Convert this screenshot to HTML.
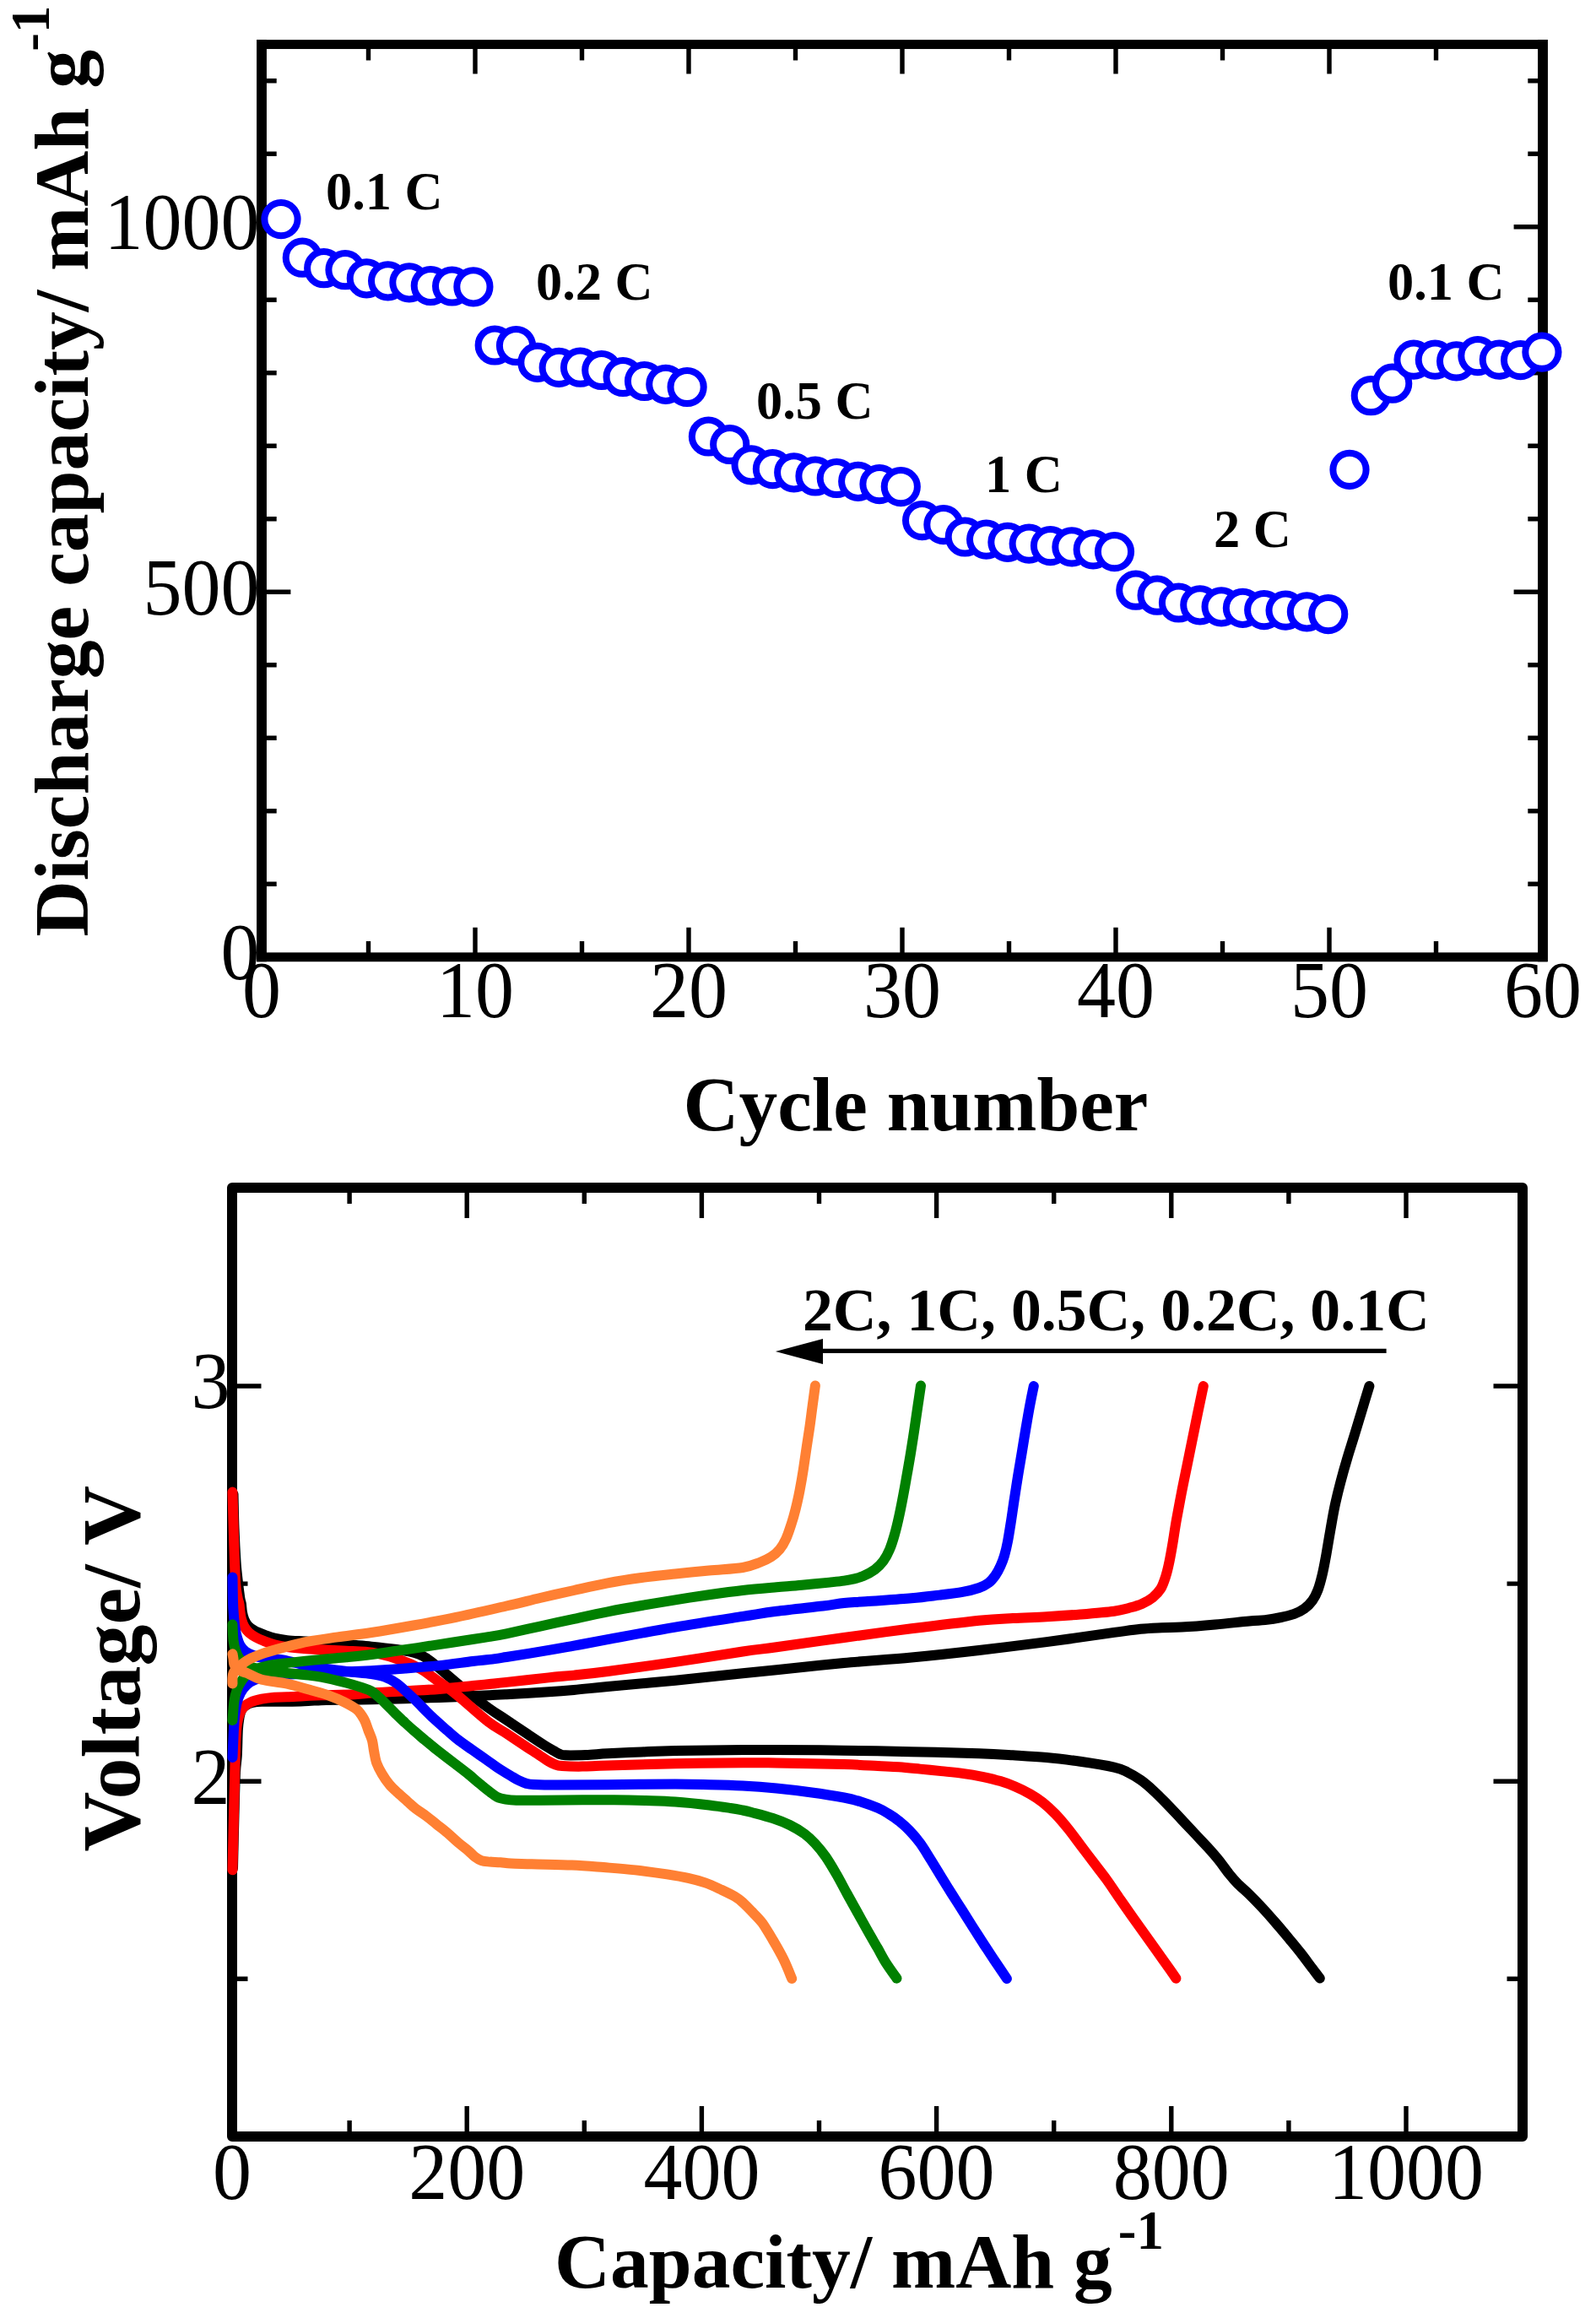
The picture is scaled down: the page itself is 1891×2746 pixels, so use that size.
<!DOCTYPE html>
<html lang="en"><head><meta charset="utf-8"><title>Rate capability</title>
<style>html,body{margin:0;padding:0;background:#fff}svg{display:block}</style></head>
<body><svg width="1891" height="2746" viewBox="0 0 1891 2746">
<rect width="1891" height="2746" fill="#fff"/>
<g id="top">
<path d="M436.5 52.6 v18.8M436.5 1133.8 v-18.8M563.0 52.6 v35.0M563.0 1133.8 v-35.0M689.5 52.6 v18.8M689.5 1133.8 v-18.8M816.0 52.6 v35.0M816.0 1133.8 v-35.0M942.5 52.6 v18.8M942.5 1133.8 v-18.8M1069.0 52.6 v35.0M1069.0 1133.8 v-35.0M1195.5 52.6 v18.8M1195.5 1133.8 v-18.8M1322.0 52.6 v35.0M1322.0 1133.8 v-35.0M1448.5 52.6 v18.8M1448.5 1133.8 v-18.8M1575.0 52.6 v35.0M1575.0 1133.8 v-35.0M1701.5 52.6 v18.8M1701.5 1133.8 v-18.8M310.0 1047.3 h17.7M1828.0 1047.3 h-17.7M310.0 960.8 h17.7M1828.0 960.8 h-17.7M310.0 874.3 h17.7M1828.0 874.3 h-17.7M310.0 787.8 h17.7M1828.0 787.8 h-17.7M310.0 701.3 h34.4M1828.0 701.3 h-34.4M310.0 614.8 h17.7M1828.0 614.8 h-17.7M310.0 528.3 h17.7M1828.0 528.3 h-17.7M310.0 441.8 h17.7M1828.0 441.8 h-17.7M310.0 355.3 h17.7M1828.0 355.3 h-17.7M310.0 268.8 h34.4M1828.0 268.8 h-34.4M310.0 182.3 h17.7M1828.0 182.3 h-17.7M310.0 95.8 h17.7M1828.0 95.8 h-17.7" stroke="#000" stroke-width="5.4" fill="none"/>
<rect x="310.0" y="52.6" width="1518.0" height="1081.2" fill="none" stroke="#000" stroke-width="10.9"/>
<path d="M310.0 47.1V1139.2M1828.0 47.1V1139.2" fill="none" stroke="#000" stroke-width="11.8"/>
<text transform="translate(307.5 1160.1) scale(1.0000 1.0350)" font-family="'Liberation Serif', 'Times New Roman', serif" font-size="92.0"  text-anchor="end" >0</text>
<text transform="translate(307.5 727.6) scale(1.0000 1.0350)" font-family="'Liberation Serif', 'Times New Roman', serif" font-size="92.0"  text-anchor="end" >500</text>
<text transform="translate(307.5 295.1) scale(1.0000 1.0350)" font-family="'Liberation Serif', 'Times New Roman', serif" font-size="92.0"  text-anchor="end" >1000</text>
<text transform="translate(310.0 1205.0) scale(1.0000 1.0350)" font-family="'Liberation Serif', 'Times New Roman', serif" font-size="92.0"  text-anchor="middle" >0</text>
<text transform="translate(563.0 1205.0) scale(1.0000 1.0350)" font-family="'Liberation Serif', 'Times New Roman', serif" font-size="92.0"  text-anchor="middle" >10</text>
<text transform="translate(816.0 1205.0) scale(1.0000 1.0350)" font-family="'Liberation Serif', 'Times New Roman', serif" font-size="92.0"  text-anchor="middle" >20</text>
<text transform="translate(1069.0 1205.0) scale(1.0000 1.0350)" font-family="'Liberation Serif', 'Times New Roman', serif" font-size="92.0"  text-anchor="middle" >30</text>
<text transform="translate(1322.0 1205.0) scale(1.0000 1.0350)" font-family="'Liberation Serif', 'Times New Roman', serif" font-size="92.0"  text-anchor="middle" >40</text>
<text transform="translate(1575.0 1205.0) scale(1.0000 1.0350)" font-family="'Liberation Serif', 'Times New Roman', serif" font-size="92.0"  text-anchor="middle" >50</text>
<text transform="translate(1828.0 1205.0) scale(1.0000 1.0350)" font-family="'Liberation Serif', 'Times New Roman', serif" font-size="92.0"  text-anchor="middle" >60</text>
<text transform="translate(104.0 1109.5) rotate(-90)" font-family="'Liberation Serif', 'Times New Roman', serif" font-size="91.6" font-weight="bold" text-anchor="start" >Discharge capacity/ mAh g<tspan font-size="65" dy="-46" dx="-2">-1</tspan></text>
<text transform="translate(1085.0 1338.6)" font-family="'Liberation Serif', 'Times New Roman', serif" font-size="91.4" font-weight="bold" text-anchor="middle" >Cycle number</text>
<text transform="translate(386.0 248.0)" font-family="'Liberation Serif', 'Times New Roman', serif" font-size="62.4" font-weight="bold" text-anchor="start" >0.1 C</text>
<text transform="translate(635.0 355.3)" font-family="'Liberation Serif', 'Times New Roman', serif" font-size="62.4" font-weight="bold" text-anchor="start" >0.2 C</text>
<text transform="translate(896.0 495.9)" font-family="'Liberation Serif', 'Times New Roman', serif" font-size="62.4" font-weight="bold" text-anchor="start" >0.5 C</text>
<text transform="translate(1167.0 582.8)" font-family="'Liberation Serif', 'Times New Roman', serif" font-size="62.4" font-weight="bold" text-anchor="start" >1 C</text>
<text transform="translate(1438.0 647.9)" font-family="'Liberation Serif', 'Times New Roman', serif" font-size="62.4" font-weight="bold" text-anchor="start" >2 C</text>
<text transform="translate(1644.0 355.2)" font-family="'Liberation Serif', 'Times New Roman', serif" font-size="62.4" font-weight="bold" text-anchor="start" >0.1 C</text>
<circle cx="333.0" cy="259.6" r="19.6" fill="#fff" stroke="#0000ff" stroke-width="8"/>
<circle cx="358.3" cy="305.2" r="19.6" fill="#fff" stroke="#0000ff" stroke-width="8"/>
<circle cx="383.7" cy="317.7" r="19.6" fill="#fff" stroke="#0000ff" stroke-width="8"/>
<circle cx="409.0" cy="319.7" r="19.6" fill="#fff" stroke="#0000ff" stroke-width="8"/>
<circle cx="434.3" cy="329.8" r="19.6" fill="#fff" stroke="#0000ff" stroke-width="8"/>
<circle cx="459.6" cy="332.8" r="19.6" fill="#fff" stroke="#0000ff" stroke-width="8"/>
<circle cx="484.9" cy="334.8" r="19.6" fill="#fff" stroke="#0000ff" stroke-width="8"/>
<circle cx="510.3" cy="338.5" r="19.6" fill="#fff" stroke="#0000ff" stroke-width="8"/>
<circle cx="535.6" cy="339.0" r="19.6" fill="#fff" stroke="#0000ff" stroke-width="8"/>
<circle cx="560.9" cy="339.8" r="19.6" fill="#fff" stroke="#0000ff" stroke-width="8"/>
<circle cx="586.2" cy="409.0" r="19.6" fill="#fff" stroke="#0000ff" stroke-width="8"/>
<circle cx="611.5" cy="409.5" r="19.6" fill="#fff" stroke="#0000ff" stroke-width="8"/>
<circle cx="636.9" cy="429.4" r="19.6" fill="#fff" stroke="#0000ff" stroke-width="8"/>
<circle cx="662.2" cy="435.4" r="19.6" fill="#fff" stroke="#0000ff" stroke-width="8"/>
<circle cx="687.5" cy="435.2" r="19.6" fill="#fff" stroke="#0000ff" stroke-width="8"/>
<circle cx="712.8" cy="438.5" r="19.6" fill="#fff" stroke="#0000ff" stroke-width="8"/>
<circle cx="738.1" cy="446.5" r="19.6" fill="#fff" stroke="#0000ff" stroke-width="8"/>
<circle cx="763.5" cy="451.5" r="19.6" fill="#fff" stroke="#0000ff" stroke-width="8"/>
<circle cx="788.8" cy="455.3" r="19.6" fill="#fff" stroke="#0000ff" stroke-width="8"/>
<circle cx="814.1" cy="458.5" r="19.6" fill="#fff" stroke="#0000ff" stroke-width="8"/>
<circle cx="839.4" cy="517.0" r="19.6" fill="#fff" stroke="#0000ff" stroke-width="8"/>
<circle cx="864.7" cy="526.5" r="19.6" fill="#fff" stroke="#0000ff" stroke-width="8"/>
<circle cx="890.1" cy="550.8" r="19.6" fill="#fff" stroke="#0000ff" stroke-width="8"/>
<circle cx="915.4" cy="555.6" r="19.6" fill="#fff" stroke="#0000ff" stroke-width="8"/>
<circle cx="940.7" cy="559.8" r="19.6" fill="#fff" stroke="#0000ff" stroke-width="8"/>
<circle cx="966.0" cy="564.0" r="19.6" fill="#fff" stroke="#0000ff" stroke-width="8"/>
<circle cx="991.3" cy="566.5" r="19.6" fill="#fff" stroke="#0000ff" stroke-width="8"/>
<circle cx="1016.7" cy="570.3" r="19.6" fill="#fff" stroke="#0000ff" stroke-width="8"/>
<circle cx="1042.0" cy="573.6" r="19.6" fill="#fff" stroke="#0000ff" stroke-width="8"/>
<circle cx="1067.3" cy="576.6" r="19.6" fill="#fff" stroke="#0000ff" stroke-width="8"/>
<circle cx="1092.6" cy="616.6" r="19.6" fill="#fff" stroke="#0000ff" stroke-width="8"/>
<circle cx="1117.9" cy="621.6" r="19.6" fill="#fff" stroke="#0000ff" stroke-width="8"/>
<circle cx="1143.3" cy="636.0" r="19.6" fill="#fff" stroke="#0000ff" stroke-width="8"/>
<circle cx="1168.6" cy="639.1" r="19.6" fill="#fff" stroke="#0000ff" stroke-width="8"/>
<circle cx="1193.9" cy="642.3" r="19.6" fill="#fff" stroke="#0000ff" stroke-width="8"/>
<circle cx="1219.2" cy="644.1" r="19.6" fill="#fff" stroke="#0000ff" stroke-width="8"/>
<circle cx="1244.5" cy="646.6" r="19.6" fill="#fff" stroke="#0000ff" stroke-width="8"/>
<circle cx="1269.9" cy="647.9" r="19.6" fill="#fff" stroke="#0000ff" stroke-width="8"/>
<circle cx="1295.2" cy="650.9" r="19.6" fill="#fff" stroke="#0000ff" stroke-width="8"/>
<circle cx="1320.5" cy="653.6" r="19.6" fill="#fff" stroke="#0000ff" stroke-width="8"/>
<circle cx="1345.8" cy="699.2" r="19.6" fill="#fff" stroke="#0000ff" stroke-width="8"/>
<circle cx="1371.1" cy="705.2" r="19.6" fill="#fff" stroke="#0000ff" stroke-width="8"/>
<circle cx="1396.5" cy="714.0" r="19.6" fill="#fff" stroke="#0000ff" stroke-width="8"/>
<circle cx="1421.8" cy="716.8" r="19.6" fill="#fff" stroke="#0000ff" stroke-width="8"/>
<circle cx="1447.1" cy="718.8" r="19.6" fill="#fff" stroke="#0000ff" stroke-width="8"/>
<circle cx="1472.4" cy="720.3" r="19.6" fill="#fff" stroke="#0000ff" stroke-width="8"/>
<circle cx="1497.7" cy="722.6" r="19.6" fill="#fff" stroke="#0000ff" stroke-width="8"/>
<circle cx="1523.1" cy="723.1" r="19.6" fill="#fff" stroke="#0000ff" stroke-width="8"/>
<circle cx="1548.4" cy="724.8" r="19.6" fill="#fff" stroke="#0000ff" stroke-width="8"/>
<circle cx="1573.7" cy="727.6" r="19.6" fill="#fff" stroke="#0000ff" stroke-width="8"/>
<circle cx="1599.0" cy="556.4" r="19.6" fill="#fff" stroke="#0000ff" stroke-width="8"/>
<circle cx="1624.3" cy="468.7" r="19.6" fill="#fff" stroke="#0000ff" stroke-width="8"/>
<circle cx="1649.7" cy="454.2" r="19.6" fill="#fff" stroke="#0000ff" stroke-width="8"/>
<circle cx="1675.0" cy="426.1" r="19.6" fill="#fff" stroke="#0000ff" stroke-width="8"/>
<circle cx="1700.3" cy="426.1" r="19.6" fill="#fff" stroke="#0000ff" stroke-width="8"/>
<circle cx="1725.6" cy="427.9" r="19.6" fill="#fff" stroke="#0000ff" stroke-width="8"/>
<circle cx="1750.9" cy="421.6" r="19.6" fill="#fff" stroke="#0000ff" stroke-width="8"/>
<circle cx="1776.3" cy="426.1" r="19.6" fill="#fff" stroke="#0000ff" stroke-width="8"/>
<circle cx="1801.6" cy="426.6" r="19.6" fill="#fff" stroke="#0000ff" stroke-width="8"/>
<circle cx="1826.9" cy="417.1" r="19.6" fill="#fff" stroke="#0000ff" stroke-width="8"/>
</g>
<g id="bottom">
<path d="M414.1 1406.9 v19.0M414.1 2531.0 v-19.0M553.2 1406.9 v36.0M553.2 2531.0 v-36.0M692.3 1406.9 v19.0M692.3 2531.0 v-19.0M831.4 1406.9 v36.0M831.4 2531.0 v-36.0M970.5 1406.9 v19.0M970.5 2531.0 v-19.0M1109.6 1406.9 v36.0M1109.6 2531.0 v-36.0M1248.7 1406.9 v19.0M1248.7 2531.0 v-19.0M1387.8 1406.9 v36.0M1387.8 2531.0 v-36.0M1526.9 1406.9 v19.0M1526.9 2531.0 v-19.0M1666.0 1406.9 v36.0M1666.0 2531.0 v-36.0M275.0 2344.3 h18.5M1804.0 2344.3 h-18.5M275.0 2110.2 h34.5M1804.0 2110.2 h-34.5M275.0 1876.1 h18.5M1804.0 1876.1 h-18.5M275.0 1642.0 h34.5M1804.0 1642.0 h-34.5" stroke="#000" stroke-width="5.4" fill="none"/>
<rect x="275.0" y="1406.9" width="1529.0" height="1124.1" fill="none" stroke="#000" stroke-width="12" stroke-linejoin="round"/>
<text transform="translate(272.5 2136.5) scale(1.0000 1.0350)" font-family="'Liberation Serif', 'Times New Roman', serif" font-size="92.0"  text-anchor="end" >2</text>
<text transform="translate(272.5 1668.3) scale(1.0000 1.0350)" font-family="'Liberation Serif', 'Times New Roman', serif" font-size="92.0"  text-anchor="end" >3</text>
<text transform="translate(275.0 2605.3) scale(1.0000 1.0350)" font-family="'Liberation Serif', 'Times New Roman', serif" font-size="92.0"  text-anchor="middle" >0</text>
<text transform="translate(553.2 2605.3) scale(1.0000 1.0350)" font-family="'Liberation Serif', 'Times New Roman', serif" font-size="92.0"  text-anchor="middle" >200</text>
<text transform="translate(831.4 2605.3) scale(1.0000 1.0350)" font-family="'Liberation Serif', 'Times New Roman', serif" font-size="92.0"  text-anchor="middle" >400</text>
<text transform="translate(1109.6 2605.3) scale(1.0000 1.0350)" font-family="'Liberation Serif', 'Times New Roman', serif" font-size="92.0"  text-anchor="middle" >600</text>
<text transform="translate(1387.8 2605.3) scale(1.0000 1.0350)" font-family="'Liberation Serif', 'Times New Roman', serif" font-size="92.0"  text-anchor="middle" >800</text>
<text transform="translate(1666.0 2605.3) scale(1.0000 1.0350)" font-family="'Liberation Serif', 'Times New Roman', serif" font-size="92.0"  text-anchor="middle" >1000</text>
<text transform="translate(165.4 2193.5) rotate(-90) scale(1.0120 1.0000)" font-family="'Liberation Serif', 'Times New Roman', serif" font-size="97.0" font-weight="bold" text-anchor="start" >Voltage/ V</text>
<text transform="translate(657.0 2710.0)" font-family="'Liberation Serif', 'Times New Roman', serif" font-size="91.5" font-weight="bold" text-anchor="start" >Capacity/ mAh g<tspan font-size="65" dy="-46" dx="7">-1</tspan></text>
<text transform="translate(951.0 1576.4)" font-family="'Liberation Serif', 'Times New Roman', serif" font-size="71.7" font-weight="bold" text-anchor="start" >2C, 1C, 0.5C, 0.2C, 0.1C</text>
<path d="M975 1600.4H1642.6" stroke="#000" stroke-width="5.3" fill="none"/>
<path d="M918.9 1601L975 1585.9V1616Z" fill="#000"/>
<path d="M276.5 1770.0C276.7 1776.7 277.0 1796.7 277.5 1810.0C278.0 1823.3 278.8 1839.2 279.5 1850.0C280.2 1860.8 281.2 1867.8 282.0 1875.0C282.8 1882.2 283.7 1888.8 284.3 1893.0C284.9 1897.2 285.4 1897.2 285.9 1900.0C286.3 1902.8 286.4 1906.8 287.0 1910.0C287.6 1913.2 288.3 1916.3 289.5 1919.0C290.7 1921.7 291.9 1923.9 294.0 1926.1C296.1 1928.3 298.9 1930.3 302.1 1932.1C305.3 1933.8 309.3 1935.2 313.1 1936.6C316.9 1938.0 320.6 1939.6 325.1 1940.7C329.6 1941.8 333.5 1942.5 340.2 1943.2C346.9 1943.9 356.8 1944.1 365.2 1944.7C373.6 1945.3 382.0 1945.9 390.3 1946.6C398.6 1947.2 406.7 1947.9 415.0 1948.6C423.3 1949.3 430.8 1949.7 440.0 1950.6C449.2 1951.5 462.5 1953.0 470.0 1954.0C477.5 1955.0 480.5 1955.5 485.0 1956.5C489.5 1957.5 493.8 1958.8 497.0 1960.0C500.2 1961.2 500.5 1961.2 504.0 1963.6C507.5 1966.0 510.9 1968.3 518.2 1974.3C525.5 1980.3 537.8 1991.3 547.8 1999.4C557.8 2007.5 569.6 2016.7 578.3 2023.0C587.0 2029.3 592.4 2032.4 600.0 2037.5C607.6 2042.6 616.4 2048.6 623.9 2053.6C631.4 2058.6 639.6 2064.1 645.0 2067.5C650.4 2070.9 653.0 2072.3 656.0 2074.0C659.0 2075.7 660.7 2076.9 663.0 2077.8C665.3 2078.7 664.8 2079.1 670.0 2079.3C675.2 2079.5 685.7 2079.3 694.0 2079.0C702.3 2078.7 709.0 2077.9 720.0 2077.3C731.0 2076.7 746.7 2076.1 760.0 2075.5C773.3 2074.9 780.0 2074.4 800.0 2074.0C820.0 2073.6 860.0 2073.2 880.0 2073.0C900.0 2072.8 900.0 2072.9 920.0 2073.0C940.0 2073.1 973.3 2073.3 1000.0 2073.7C1026.7 2074.1 1053.3 2074.6 1080.0 2075.2C1106.7 2075.8 1140.0 2076.6 1160.0 2077.3C1180.0 2078.0 1186.7 2078.5 1200.0 2079.3C1213.3 2080.1 1226.7 2080.8 1240.0 2082.0C1253.3 2083.2 1266.7 2084.9 1280.0 2086.8C1293.3 2088.7 1310.7 2091.5 1320.0 2093.6C1329.3 2095.7 1330.5 2096.8 1335.7 2099.3C1341.0 2101.8 1346.2 2104.9 1351.5 2108.7C1356.8 2112.4 1362.0 2117.0 1367.2 2121.8C1372.5 2126.6 1377.5 2131.9 1383.0 2137.5C1388.5 2143.1 1394.5 2149.7 1400.0 2155.5C1405.5 2161.3 1410.8 2166.9 1416.0 2172.5C1421.2 2178.1 1426.8 2183.8 1431.5 2189.0C1436.2 2194.2 1439.9 2198.4 1444.0 2203.5C1448.1 2208.6 1452.3 2214.9 1456.0 2219.5C1459.7 2224.1 1462.0 2226.9 1466.0 2231.0C1470.0 2235.1 1475.0 2239.1 1480.0 2244.0C1485.0 2248.9 1490.7 2254.8 1496.0 2260.5C1501.3 2266.2 1506.8 2272.5 1512.0 2278.5C1517.2 2284.5 1522.3 2290.6 1527.2 2296.5C1532.1 2302.4 1537.1 2308.4 1541.5 2314.0C1545.9 2319.6 1549.8 2325.1 1553.5 2330.0C1557.2 2334.9 1562.1 2341.2 1563.8 2343.5" fill="none" stroke="#000000" stroke-width="12" stroke-linecap="round" stroke-linejoin="round"/>
<path d="M276.0 2213.0C276.2 2202.5 277.0 2168.8 277.5 2150.0C278.0 2131.2 278.4 2111.7 279.0 2100.0C279.6 2088.3 280.3 2088.3 280.8 2080.0C281.3 2071.7 281.4 2057.5 281.8 2050.0C282.2 2042.5 282.8 2039.0 283.5 2035.0C284.2 2031.0 284.8 2028.4 286.0 2026.0C287.2 2023.6 288.8 2022.0 291.0 2020.5C293.2 2019.0 295.8 2017.8 299.0 2017.0C302.2 2016.2 303.2 2015.9 310.1 2015.7C317.0 2015.5 331.9 2015.8 340.2 2015.7C348.5 2015.6 353.5 2015.5 360.2 2015.2C366.9 2015.0 373.6 2014.5 380.3 2014.2C387.0 2014.0 390.4 2013.9 400.3 2013.7C410.2 2013.5 420.1 2013.7 440.0 2013.2C459.9 2012.8 500.0 2011.7 520.0 2011.0C540.0 2010.3 550.0 2009.8 560.0 2009.3C570.0 2008.8 573.3 2008.6 580.0 2008.3C586.7 2008.0 588.3 2007.9 600.0 2007.2C611.7 2006.5 636.7 2005.1 650.0 2004.2C663.3 2003.3 668.3 2002.9 680.0 2001.9C691.7 2000.9 700.0 1999.9 720.0 1998.0C740.0 1996.1 773.3 1993.3 800.0 1990.7C826.7 1988.1 860.0 1984.3 880.0 1982.2C900.0 1980.1 900.0 1980.2 920.0 1978.2C940.0 1976.2 973.3 1972.5 1000.0 1970.0C1026.7 1967.5 1053.3 1966.0 1080.0 1963.5C1106.7 1961.0 1133.3 1958.1 1160.0 1955.0C1186.7 1951.9 1213.3 1948.6 1240.0 1945.1C1266.7 1941.6 1301.4 1936.5 1320.0 1933.9C1338.6 1931.4 1342.0 1930.8 1351.5 1929.8C1361.0 1928.8 1368.6 1928.6 1376.7 1928.2C1384.8 1927.8 1389.5 1928.2 1400.0 1927.6C1410.5 1927.0 1426.7 1925.7 1440.0 1924.5C1453.3 1923.3 1470.2 1921.4 1480.0 1920.5C1489.8 1919.6 1492.6 1919.8 1498.9 1919.1C1505.2 1918.3 1512.0 1917.2 1517.8 1916.0C1523.6 1914.8 1528.9 1913.6 1533.5 1911.9C1538.1 1910.2 1541.9 1908.2 1545.5 1905.6C1549.1 1903.0 1552.3 1899.8 1555.0 1896.1C1557.7 1892.4 1559.6 1888.5 1561.5 1883.5C1563.4 1878.5 1564.8 1873.3 1566.5 1866.2C1568.2 1859.1 1569.9 1849.9 1571.5 1841.0C1573.1 1832.1 1574.6 1822.2 1576.3 1812.7C1578.0 1803.2 1579.5 1793.8 1581.5 1784.3C1583.5 1774.8 1585.8 1765.5 1588.3 1756.0C1590.8 1746.5 1593.5 1736.9 1596.3 1727.6C1599.0 1718.3 1602.0 1709.3 1604.8 1700.0C1607.6 1690.7 1610.4 1681.7 1613.3 1672.0C1616.2 1662.3 1620.9 1647.0 1622.4 1642.0" fill="none" stroke="#000000" stroke-width="12" stroke-linecap="round" stroke-linejoin="round"/>
<path d="M275.5 1767.5C275.8 1776.2 276.4 1802.1 277.0 1820.0C277.6 1837.9 278.3 1862.8 279.1 1875.0C279.9 1887.2 280.9 1888.8 281.6 1893.0C282.3 1897.2 282.9 1897.2 283.4 1900.0C283.9 1902.8 284.0 1906.8 284.5 1910.0C285.0 1913.2 285.4 1916.2 286.2 1919.0C287.0 1921.8 288.0 1924.6 289.5 1927.1C291.0 1929.6 292.7 1932.0 295.0 1934.1C297.3 1936.2 300.1 1937.9 303.1 1939.6C306.1 1941.3 309.4 1942.7 313.1 1944.1C316.8 1945.5 320.6 1947.0 325.1 1948.2C329.6 1949.4 334.4 1950.3 340.2 1951.1C346.0 1951.9 353.5 1952.6 360.2 1953.1C366.9 1953.6 371.9 1953.8 380.3 1954.2C388.7 1954.6 401.7 1955.3 410.3 1955.7C418.9 1956.1 425.7 1956.2 432.0 1956.8C438.3 1957.3 441.2 1957.5 448.0 1959.0C454.8 1960.5 464.6 1963.0 473.0 1966.0C481.4 1969.0 491.2 1973.3 498.1 1977.0C505.0 1980.7 507.2 1983.0 514.2 1988.0C521.2 1993.0 529.6 1998.4 540.3 2007.0C551.0 2015.6 568.3 2031.8 578.3 2039.5C588.2 2047.2 592.4 2048.5 600.0 2053.5C607.6 2058.5 617.2 2065.0 623.9 2069.4C630.6 2073.8 635.6 2077.2 640.0 2080.0C644.4 2082.8 647.2 2084.8 650.0 2086.5C652.8 2088.2 654.3 2089.1 657.0 2090.0C659.7 2090.9 660.5 2091.6 666.0 2092.0C671.5 2092.4 681.0 2092.7 690.0 2092.6C699.0 2092.5 701.7 2092.1 720.0 2091.6C738.3 2091.1 773.3 2089.9 800.0 2089.3C826.7 2088.7 860.0 2088.3 880.0 2088.2C900.0 2088.1 900.0 2088.2 920.0 2088.5C940.0 2088.8 980.0 2089.4 1000.0 2090.0C1020.0 2090.6 1029.2 2091.5 1040.0 2092.1C1050.8 2092.6 1056.7 2092.7 1065.1 2093.3C1073.4 2093.9 1081.8 2094.8 1090.1 2095.6C1098.5 2096.4 1106.8 2097.2 1115.2 2098.1C1123.5 2099.0 1131.9 2099.7 1140.3 2100.9C1148.6 2102.0 1157.8 2103.6 1165.3 2105.1C1172.8 2106.7 1179.1 2108.2 1185.4 2110.1C1191.6 2112.0 1197.1 2113.9 1202.9 2116.4C1208.8 2118.9 1215.0 2122.0 1220.5 2125.2C1225.9 2128.3 1230.5 2131.2 1235.5 2135.2C1240.5 2139.2 1245.5 2143.8 1250.5 2149.0C1255.5 2154.2 1260.6 2160.3 1265.6 2166.5C1270.6 2172.7 1275.6 2179.7 1280.6 2186.3C1285.6 2192.9 1290.6 2199.6 1295.6 2206.2C1300.6 2212.8 1305.7 2219.1 1310.7 2226.0C1315.7 2232.9 1320.7 2240.6 1325.7 2247.8C1330.7 2255.1 1335.8 2262.4 1340.8 2269.5C1345.8 2276.6 1350.8 2283.5 1355.8 2290.5C1360.8 2297.5 1365.8 2304.5 1370.8 2311.6C1375.8 2318.7 1382.1 2327.5 1385.9 2332.8C1389.7 2338.2 1392.2 2341.9 1393.4 2343.7" fill="none" stroke="#ff0000" stroke-width="12" stroke-linecap="round" stroke-linejoin="round"/>
<path d="M275.5 2215.3C275.8 2204.4 276.5 2170.9 277.0 2150.0C277.5 2129.1 278.1 2105.0 278.5 2090.0C278.9 2075.0 279.1 2068.0 279.5 2060.0C279.9 2052.0 280.2 2047.0 281.0 2042.0C281.8 2037.0 282.7 2033.3 284.0 2030.0C285.3 2026.7 286.8 2024.2 289.0 2022.0C291.2 2019.8 293.5 2018.0 297.0 2016.5C300.5 2015.0 305.4 2013.7 310.1 2012.7C314.8 2011.7 320.1 2011.1 325.1 2010.7C330.1 2010.3 334.4 2010.5 340.2 2010.2C346.0 2010.0 353.5 2009.5 360.2 2009.2C366.9 2008.9 370.3 2008.5 380.3 2008.2C390.3 2007.9 410.4 2007.7 420.4 2007.2C430.3 2006.8 430.1 2006.2 440.0 2005.5C449.9 2004.8 466.6 2004.1 480.0 2003.3C493.4 2002.5 506.9 2002.0 520.2 2000.9C533.5 1999.9 550.0 1998.0 560.0 1997.0C570.0 1996.0 573.3 1995.7 580.0 1995.0C586.7 1994.3 588.3 1994.2 600.0 1992.9C611.7 1991.6 636.7 1988.8 650.0 1987.4C663.3 1986.0 668.3 1985.8 680.0 1984.6C691.7 1983.4 700.0 1982.6 720.0 1980.0C740.0 1977.4 773.3 1972.8 800.0 1968.9C826.7 1965.0 860.0 1959.5 880.0 1956.5C900.0 1953.5 900.0 1954.0 920.0 1951.2C940.0 1948.5 973.3 1943.7 1000.0 1940.0C1026.7 1936.3 1053.3 1932.7 1080.0 1929.3C1106.7 1925.9 1140.0 1921.8 1160.0 1919.7C1180.0 1917.7 1186.7 1917.7 1200.0 1917.0C1213.3 1916.3 1226.7 1916.0 1240.0 1915.3C1253.3 1914.5 1266.7 1913.6 1280.0 1912.5C1293.3 1911.4 1310.3 1910.0 1320.0 1908.7C1329.7 1907.4 1332.5 1906.2 1338.0 1904.8C1343.5 1903.3 1348.3 1902.1 1353.0 1900.0C1357.7 1897.9 1362.3 1895.3 1366.0 1892.3C1369.7 1889.3 1372.8 1886.0 1375.3 1882.0C1377.8 1878.0 1379.3 1873.3 1381.0 1868.0C1382.7 1862.7 1384.1 1856.7 1385.5 1850.0C1386.9 1843.3 1388.1 1836.3 1389.5 1828.0C1390.9 1819.7 1392.2 1810.0 1394.0 1800.0C1395.8 1790.0 1398.0 1778.5 1400.0 1768.0C1402.0 1757.5 1404.2 1747.3 1406.3 1737.0C1408.4 1726.7 1410.5 1716.3 1412.6 1706.0C1414.7 1695.7 1416.7 1685.7 1418.9 1675.0C1421.1 1664.3 1424.7 1647.5 1425.8 1642.0" fill="none" stroke="#ff0000" stroke-width="12" stroke-linecap="round" stroke-linejoin="round"/>
<path d="M275.5 1868.4C275.6 1874.5 275.8 1895.1 276.3 1905.0C276.8 1914.9 277.7 1922.2 278.5 1928.0C279.3 1933.8 280.0 1936.5 281.0 1940.0C282.0 1943.5 282.8 1946.2 284.5 1949.0C286.2 1951.8 288.4 1954.5 291.0 1956.5C293.6 1958.5 296.5 1959.8 300.0 1961.0C303.5 1962.2 306.1 1963.1 312.0 1964.0C317.9 1964.9 325.0 1964.7 335.1 1966.5C345.2 1968.3 360.2 1972.8 372.8 1975.0C385.4 1977.2 399.2 1978.7 410.4 1980.0C421.6 1981.3 432.5 1981.9 440.0 1983.0C447.5 1984.1 450.5 1984.6 455.5 1986.5C460.5 1988.4 464.3 1989.9 470.1 1994.2C475.9 1998.5 483.4 2005.9 490.1 2012.2C496.8 2018.5 503.5 2025.9 510.2 2032.3C516.9 2038.7 525.0 2045.7 530.2 2050.3C535.4 2054.9 537.3 2056.7 541.5 2060.0C545.7 2063.3 550.9 2066.9 555.3 2070.0C559.7 2073.1 563.6 2075.9 567.8 2078.8C572.0 2081.7 576.2 2084.7 580.4 2087.6C584.6 2090.5 588.7 2093.6 592.9 2096.3C597.1 2099.0 601.8 2101.8 605.4 2103.9C609.0 2106.0 611.3 2107.5 614.2 2108.9C617.1 2110.3 620.0 2111.8 623.0 2112.6C626.0 2113.4 625.8 2113.7 632.0 2114.0C638.2 2114.3 645.3 2114.6 660.0 2114.6C674.7 2114.6 696.7 2114.4 720.0 2114.2C743.3 2114.0 779.9 2113.6 800.0 2113.6C820.1 2113.6 827.2 2113.9 840.5 2114.2C853.8 2114.5 866.8 2114.8 880.0 2115.5C893.2 2116.2 906.7 2117.2 920.0 2118.5C933.3 2119.8 946.7 2121.4 960.0 2123.2C973.3 2125.0 990.0 2127.6 1000.0 2129.5C1010.0 2131.4 1013.3 2132.4 1020.0 2134.5C1026.7 2136.6 1034.6 2139.5 1040.0 2141.8C1045.4 2144.1 1048.4 2145.9 1052.5 2148.5C1056.7 2151.0 1060.9 2153.9 1065.1 2157.2C1069.2 2160.6 1073.4 2164.2 1077.6 2168.5C1081.8 2172.9 1085.9 2177.6 1090.1 2183.3C1094.3 2189.0 1098.5 2196.2 1102.7 2202.9C1106.8 2209.5 1111.0 2216.6 1115.2 2223.4C1119.4 2230.2 1123.5 2236.8 1127.7 2243.5C1131.9 2250.1 1136.1 2256.7 1140.3 2263.3C1144.4 2269.9 1148.6 2276.5 1152.8 2283.1C1157.0 2289.6 1161.1 2296.2 1165.3 2302.6C1169.5 2309.0 1173.2 2314.8 1177.8 2321.7C1182.4 2328.5 1190.4 2340.2 1192.9 2344.0" fill="none" stroke="#0000ff" stroke-width="12" stroke-linecap="round" stroke-linejoin="round"/>
<path d="M275.5 2081.9C275.8 2074.9 276.7 2050.7 277.5 2040.0C278.3 2029.3 279.2 2023.8 280.5 2018.0C281.8 2012.2 283.1 2009.0 285.1 2005.3C287.1 2001.6 289.8 1998.3 292.6 1995.8C295.4 1993.2 298.3 1991.5 302.0 1990.0C305.7 1988.5 309.5 1987.5 315.0 1986.5C320.5 1985.5 323.4 1984.9 335.1 1984.1C346.8 1983.3 367.5 1982.3 385.0 1981.5C402.5 1980.7 424.2 1980.0 440.0 1979.2C455.8 1978.4 466.6 1977.5 480.0 1976.5C493.4 1975.5 506.9 1974.5 520.2 1973.1C533.5 1971.7 550.0 1969.2 560.0 1968.0C570.0 1966.8 573.3 1966.7 580.0 1965.9C586.7 1965.1 588.3 1964.8 600.0 1963.0C611.7 1961.2 636.7 1957.1 650.0 1954.9C663.3 1952.7 668.3 1951.7 680.0 1949.6C691.7 1947.5 700.0 1945.9 720.0 1942.2C740.0 1938.5 773.3 1932.1 800.0 1927.6C826.7 1923.0 860.0 1918.0 880.0 1914.9C900.0 1911.8 904.1 1910.9 920.0 1908.8C935.9 1906.7 961.9 1904.1 975.2 1902.5C988.5 1900.9 991.6 1899.9 1000.0 1899.0C1008.4 1898.1 1012.0 1898.2 1025.3 1897.2C1038.6 1896.2 1065.4 1894.6 1080.0 1893.3C1094.6 1892.0 1102.9 1890.8 1113.0 1889.6C1123.1 1888.4 1132.8 1887.3 1140.6 1885.9C1148.4 1884.5 1154.8 1882.8 1160.0 1881.0C1165.2 1879.2 1168.2 1877.5 1171.5 1875.0C1174.8 1872.5 1177.2 1869.3 1179.5 1866.0C1181.8 1862.7 1183.8 1858.8 1185.5 1855.0C1187.2 1851.2 1188.6 1847.8 1190.0 1843.0C1191.4 1838.2 1192.8 1832.3 1194.0 1826.0C1195.2 1819.7 1196.2 1813.0 1197.5 1805.0C1198.8 1797.0 1200.1 1787.3 1201.5 1778.0C1202.9 1768.7 1204.5 1758.5 1206.0 1749.0C1207.5 1739.5 1209.2 1730.3 1210.7 1721.0C1212.2 1711.7 1213.7 1702.3 1215.3 1693.0C1216.9 1683.7 1218.6 1673.5 1220.2 1665.0C1221.8 1656.5 1224.0 1645.8 1224.8 1642.0" fill="none" stroke="#0000ff" stroke-width="12" stroke-linecap="round" stroke-linejoin="round"/>
<path d="M275.5 1924.5C275.7 1927.6 275.9 1937.9 276.5 1943.0C277.1 1948.1 277.8 1951.4 279.0 1955.0C280.2 1958.6 281.5 1961.8 283.5 1964.5C285.5 1967.2 287.9 1969.6 291.0 1971.5C294.1 1973.4 297.5 1974.7 302.0 1976.0C306.5 1977.3 312.5 1978.6 318.0 1979.5C323.5 1980.4 328.2 1980.8 335.2 1981.5C342.2 1982.2 352.5 1983.1 360.0 1984.0C367.5 1984.9 372.0 1985.1 380.3 1986.7C388.6 1988.3 401.7 1991.4 410.0 1993.5C418.3 1995.6 425.0 1997.8 430.0 1999.5C435.0 2001.2 436.7 2001.5 440.0 2003.5C443.3 2005.5 446.6 2008.5 450.0 2011.5C453.4 2014.5 456.8 2018.2 460.1 2021.5C463.5 2024.8 466.8 2028.2 470.1 2031.5C473.4 2034.8 476.8 2037.9 480.1 2041.0C483.4 2044.1 486.8 2047.1 490.1 2050.0C493.4 2052.9 495.4 2054.7 500.0 2058.5C504.6 2062.3 511.6 2068.2 517.7 2073.0C523.8 2077.8 530.2 2082.7 536.5 2087.5C542.8 2092.3 550.1 2097.8 555.3 2102.0C560.5 2106.2 563.6 2109.2 567.8 2112.6C572.0 2116.0 576.8 2120.0 580.4 2122.7C584.0 2125.4 586.0 2127.4 589.1 2128.9C592.2 2130.4 595.4 2131.0 599.2 2131.6C603.0 2132.2 604.9 2132.5 611.7 2132.7C618.5 2132.9 626.9 2132.8 640.0 2132.7C653.1 2132.6 675.5 2132.3 690.1 2132.2C704.7 2132.1 715.2 2132.1 727.7 2132.2C740.2 2132.3 753.2 2132.6 765.3 2133.0C777.3 2133.4 787.5 2133.6 800.0 2134.5C812.5 2135.4 829.6 2137.2 840.5 2138.5C851.4 2139.8 859.0 2141.0 865.6 2142.0C872.2 2143.0 875.8 2143.7 880.0 2144.5C884.2 2145.3 884.6 2145.4 890.6 2147.0C896.6 2148.6 908.2 2151.5 915.7 2154.0C923.2 2156.5 929.4 2158.9 935.7 2162.0C942.0 2165.1 948.3 2168.8 953.3 2172.5C958.3 2176.2 961.6 2179.5 965.8 2184.0C970.0 2188.5 974.1 2193.5 978.3 2199.5C982.5 2205.5 986.7 2212.8 990.9 2220.0C995.1 2227.2 999.2 2235.4 1003.4 2243.0C1007.6 2250.6 1011.7 2258.0 1015.9 2265.5C1020.1 2273.0 1024.5 2281.0 1028.5 2288.1C1032.5 2295.2 1036.4 2301.8 1040.0 2308.1C1043.6 2314.4 1046.2 2319.8 1050.0 2325.7C1053.8 2331.6 1060.4 2340.7 1062.5 2343.7" fill="none" stroke="#008000" stroke-width="12" stroke-linecap="round" stroke-linejoin="round"/>
<path d="M275.5 2038.0C275.8 2034.2 276.6 2021.2 277.5 2015.0C278.4 2008.8 279.7 2004.7 281.0 2001.0C282.3 1997.3 283.4 1995.7 285.1 1993.0C286.8 1990.3 288.7 1987.3 291.0 1985.0C293.3 1982.7 295.8 1980.7 299.0 1979.0C302.2 1977.3 304.9 1976.3 310.1 1975.0C315.3 1973.7 318.4 1972.8 330.1 1971.3C341.8 1969.8 366.9 1967.2 380.3 1965.9C393.7 1964.6 400.4 1964.3 410.3 1963.3C420.2 1962.3 428.4 1961.5 440.0 1960.0C451.6 1958.5 466.6 1956.3 480.0 1954.3C493.4 1952.3 506.9 1950.1 520.2 1948.1C533.5 1946.0 550.0 1943.5 560.0 1942.0C570.0 1940.5 573.3 1940.0 580.0 1938.9C586.7 1937.8 590.0 1937.3 600.0 1935.3C610.0 1933.2 626.7 1929.5 640.0 1926.6C653.3 1923.7 666.7 1920.7 680.0 1917.8C693.3 1914.9 706.7 1911.9 720.0 1909.3C733.3 1906.7 746.7 1904.3 760.0 1902.0C773.3 1899.7 786.7 1897.4 800.0 1895.3C813.3 1893.2 826.7 1891.2 840.0 1889.3C853.3 1887.4 866.7 1885.5 880.0 1884.0C893.3 1882.5 908.3 1881.3 920.0 1880.3C931.7 1879.3 939.6 1878.8 950.1 1877.8C960.6 1876.8 974.4 1875.5 982.7 1874.6C991.0 1873.7 995.1 1873.3 1000.0 1872.6C1004.9 1871.9 1008.2 1871.2 1012.0 1870.3C1015.8 1869.4 1018.7 1868.8 1022.8 1867.0C1026.9 1865.2 1032.6 1862.2 1036.6 1859.3C1040.6 1856.3 1043.7 1853.3 1046.6 1849.3C1049.5 1845.3 1051.9 1840.7 1054.1 1835.5C1056.3 1830.3 1058.0 1824.7 1059.9 1818.0C1061.8 1811.3 1063.7 1803.3 1065.4 1795.4C1067.2 1787.5 1068.8 1778.8 1070.4 1770.4C1072.0 1762.1 1073.4 1753.7 1074.9 1745.3C1076.4 1736.9 1077.8 1729.1 1079.2 1720.3C1080.6 1711.5 1082.1 1701.9 1083.5 1692.7C1084.9 1683.5 1086.2 1673.6 1087.5 1665.1C1088.8 1656.6 1090.4 1645.4 1091.0 1641.5" fill="none" stroke="#008000" stroke-width="12" stroke-linecap="round" stroke-linejoin="round"/>
<path d="M275.5 1959.3C275.7 1960.3 276.2 1963.2 276.5 1965.2C276.8 1967.2 276.7 1969.6 277.3 1971.5C277.9 1973.4 278.8 1975.2 280.1 1976.5C281.3 1977.8 283.0 1978.6 285.1 1979.5C287.2 1980.4 288.4 1980.3 292.6 1982.0C296.8 1983.7 302.2 1987.6 310.1 1989.7C318.0 1991.8 330.2 1992.5 340.2 1994.7C350.2 1996.9 361.8 2000.5 370.2 2002.8C378.6 2005.1 384.0 2006.5 390.3 2008.8C396.6 2011.0 402.4 2013.5 407.8 2016.3C413.2 2019.0 419.0 2021.9 422.9 2025.3C426.8 2028.7 429.1 2032.7 431.4 2036.8C433.7 2040.9 434.9 2045.8 436.5 2050.0C438.1 2054.2 439.9 2057.8 441.0 2062.0C442.1 2066.2 442.3 2070.5 443.2 2075.0C444.1 2079.5 444.7 2084.4 446.3 2088.8C447.9 2093.2 450.1 2097.2 452.6 2101.4C455.1 2105.6 458.2 2110.2 461.3 2113.9C464.4 2117.7 467.8 2120.6 471.4 2123.9C474.9 2127.2 479.1 2130.8 482.6 2133.9C486.2 2137.0 488.9 2139.8 492.7 2142.7C496.5 2145.6 501.0 2148.4 505.2 2151.5C509.4 2154.6 513.5 2158.2 517.7 2161.5C521.9 2164.8 526.1 2167.9 530.3 2171.5C534.5 2175.1 538.6 2179.2 542.8 2182.8C547.0 2186.4 552.0 2190.0 555.3 2192.8C558.6 2195.6 560.3 2197.9 562.8 2199.8C565.3 2201.7 567.5 2203.1 570.4 2204.1C573.3 2205.1 576.6 2205.2 580.4 2205.6C584.1 2205.9 588.7 2205.9 592.9 2206.2C597.1 2206.5 599.2 2207.2 605.4 2207.5C611.6 2207.8 618.0 2207.9 630.0 2208.3C642.0 2208.7 663.4 2209.0 677.6 2209.6C691.8 2210.3 702.7 2211.2 715.2 2212.1C727.7 2213.1 740.3 2214.0 752.8 2215.4C765.3 2216.8 779.9 2218.8 790.4 2220.4C800.8 2222.0 807.9 2223.2 815.4 2224.9C823.0 2226.6 829.2 2228.3 835.5 2230.4C841.8 2232.6 847.2 2235.2 853.0 2237.9C858.9 2240.7 866.0 2244.0 870.6 2246.7C875.2 2249.4 877.3 2251.3 880.6 2254.2C883.9 2257.2 886.9 2260.3 890.6 2264.3C894.4 2268.2 899.0 2272.4 903.2 2278.0C907.3 2283.7 911.5 2291.0 915.7 2298.1C919.9 2305.2 924.5 2313.0 928.2 2320.7C932.0 2328.3 936.6 2340.1 938.2 2344.0" fill="none" stroke="#ff8033" stroke-width="12" stroke-linecap="round" stroke-linejoin="round"/>
<path d="M275.5 1994.4C275.5 1993.3 275.3 1990.1 275.5 1988.0C275.7 1985.9 275.8 1983.8 276.5 1982.0C277.2 1980.2 278.2 1978.9 279.5 1977.5C280.8 1976.1 282.2 1974.9 284.0 1973.5C285.8 1972.1 287.8 1970.5 290.0 1969.0C292.2 1967.5 294.2 1966.1 297.5 1964.5C300.8 1962.9 306.2 1960.7 310.0 1959.3C313.8 1957.9 315.1 1957.5 320.1 1956.1C325.1 1954.6 332.5 1952.5 340.0 1950.6C347.5 1948.7 355.2 1946.5 365.2 1944.6C375.2 1942.7 387.5 1941.2 400.0 1939.4C412.5 1937.6 425.0 1936.3 440.0 1934.0C455.0 1931.7 473.3 1928.5 490.0 1925.5C506.7 1922.5 522.0 1919.7 540.3 1915.9C558.6 1912.1 583.4 1906.3 600.0 1902.5C616.6 1898.7 626.7 1896.1 640.0 1893.0C653.3 1889.9 666.7 1887.0 680.0 1884.0C693.3 1881.0 706.7 1877.8 720.0 1875.3C733.3 1872.8 746.7 1870.8 760.0 1869.0C773.3 1867.2 786.7 1865.9 800.0 1864.5C813.3 1863.1 826.7 1861.8 840.0 1860.5C853.3 1859.2 870.0 1858.6 880.0 1857.0C890.0 1855.4 894.4 1853.1 900.0 1851.0C905.6 1848.9 909.8 1846.9 913.8 1844.3C917.8 1841.7 920.9 1839.0 923.8 1835.5C926.7 1832.0 929.0 1828.0 931.3 1823.0C933.6 1818.0 935.7 1811.3 937.6 1805.5C939.5 1799.7 940.9 1794.6 942.6 1787.9C944.3 1781.2 946.1 1773.3 947.6 1765.4C949.1 1757.5 950.6 1748.7 951.9 1740.3C953.2 1731.9 954.4 1723.5 955.6 1715.2C956.9 1706.9 958.2 1698.6 959.4 1690.2C960.6 1681.8 961.6 1673.2 962.7 1665.1C963.8 1657.0 965.4 1645.4 965.9 1641.5" fill="none" stroke="#ff8033" stroke-width="12" stroke-linecap="round" stroke-linejoin="round"/>
</g>
</svg></body></html>
